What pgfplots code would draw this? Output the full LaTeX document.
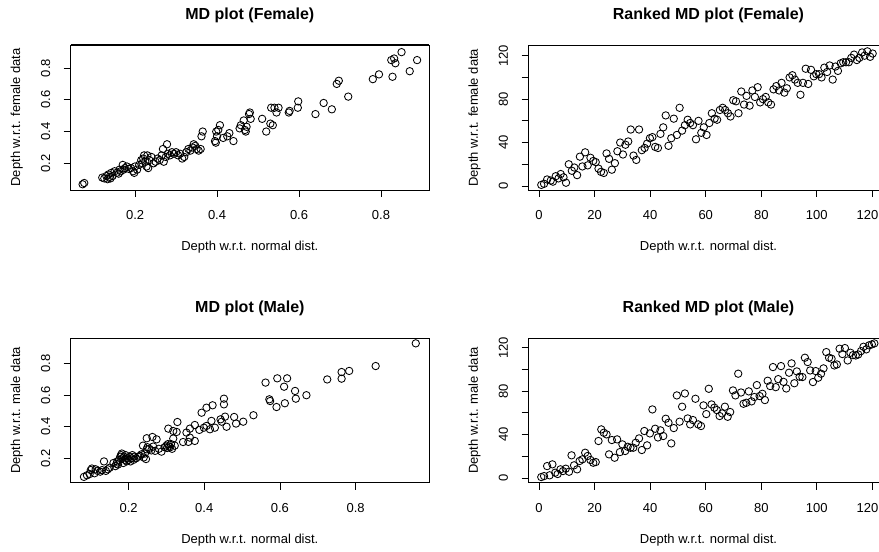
\documentclass[border=0pt]{standalone}
\usepackage{fontspec}
\setmainfont{Liberation Sans}
\usepackage{pgfplots}
\pgfplotsset{compat=1.18}
\pgfplotsset{
  rplot/.style={
    scale only axis,
    anchor=south west,
    axis line style={line width=0.8bp},
    tick align=outside,
    xtick pos=left, ytick pos=left,
    major tick length=7bp,
    tick style={line width=0.8bp, black},
    minor tick num=0,
    font=\fontsize{13bp}{15bp}\selectfont,
    tick label style={font=\fontsize{13bp}{15bp}\selectfont},
    /pgf/number format/assume math mode=true,
    xticklabel style={yshift=-10bp},
    yticklabel style={xshift=-10bp, rotate=90, anchor=south},
    every axis title/.style={at={(0.5,1)}, anchor=center, yshift=30bp,
      font=\fontsize{16bp}{19bp}\selectfont\bfseries},
    every axis x label/.style={at={(0.5,0)}, anchor=center, yshift=-57bp},
    every axis y label/.style={at={(0,0.5)}, xshift=-54bp, rotate=90, anchor=center},
  },
  thicktop/.style={after end axis/.code={
    \draw[line width=1.8bp] (rel axis cs:0,1) -- (rel axis cs:1,1);}},
  pts/.style={only marks, mark=o, mark size=3.7bp, black,
    mark options={fill=none, draw=black, line width=0.85bp}},
  mdax/.style={xtick={0.2,0.4,0.6,0.8}, xticklabels={0.2,0.4,0.6,0.8},
    ytick={0.2,0.4,0.6,0.8}, yticklabels={0.2,0.4,0.6,0.8}},
  rkax/.style={xtick={0,20,...,120},
    xticklabels={0,20,40,60,80,100,{\hspace*{-10bp}120}},
    ytick={0,20,...,120}, yticklabels={0,{},40,{},80,{},120}},
}
\begin{document}
\begin{tikzpicture}
\useasboundingbox (0,0) rectangle (879bp,552bp);
% ---------------- MD plot (Female)
\begin{axis}[rplot, mdax, thicktop, at={(70.7bp,362bp)}, width=358.3bp, height=145bp,
  xmin=0.043, xmax=0.917, ymin=0.032, ymax=0.945,
  title={MD plot (Female)}, xlabel={Depth w.r.t. normal dist.},
  ylabel={Depth w.r.t. female data}]
\addplot[pts] coordinates {
(0.072,0.068)(0.076,0.076)
(0.12,0.11)(0.125,0.105)(0.13,0.12)(0.133,0.10)(0.135,0.13)(0.138,0.115)(0.14,0.105)
(0.142,0.14)(0.145,0.12)(0.15,0.15)(0.155,0.14)(0.16,0.135)(0.162,0.16)(0.165,0.15)
(0.17,0.19)(0.172,0.16)(0.175,0.17)(0.18,0.18)(0.185,0.165)(0.19,0.17)(0.195,0.15)
(0.198,0.14)(0.2,0.18)(0.205,0.16)(0.21,0.19)(0.215,0.22)(0.218,0.2)(0.22,0.23)
(0.222,0.25)(0.225,0.21)(0.228,0.18)(0.23,0.25)(0.232,0.17)(0.235,0.22)(0.24,0.24)
(0.245,0.2)(0.25,0.21)(0.255,0.23)(0.26,0.22)(0.265,0.25)(0.268,0.29)(0.27,0.21)
(0.275,0.24)(0.278,0.32)(0.28,0.26)(0.285,0.25)(0.29,0.27)(0.295,0.26)(0.3,0.27)
(0.305,0.25)(0.31,0.26)(0.315,0.23)(0.32,0.24)(0.325,0.27)(0.33,0.29)(0.335,0.28)
(0.34,0.30)(0.343,0.32)(0.347,0.31)(0.35,0.29)(0.355,0.28)(0.36,0.29)(0.362,0.37)(0.365,0.40)
(0.395,0.34)(0.397,0.33)(0.398,0.40)(0.40,0.37)(0.403,0.41)(0.407,0.44)(0.415,0.36)
(0.425,0.37)(0.43,0.39)(0.44,0.34)(0.455,0.42)(0.458,0.44)(0.465,0.47)(0.468,0.41)
(0.47,0.40)(0.472,0.43)(0.478,0.51)(0.48,0.52)(0.482,0.48)(0.51,0.48)(0.52,0.40)
(0.53,0.45)(0.532,0.55)(0.536,0.44)(0.54,0.55)(0.545,0.52)(0.55,0.55)(0.575,0.52)
(0.577,0.53)(0.597,0.55)(0.598,0.59)(0.64,0.51)(0.66,0.58)(0.68,0.54)(0.692,0.70)
(0.697,0.72)(0.72,0.62)
(0.78,0.73)(0.795,0.76)(0.825,0.85)(0.828,0.745)(0.832,0.86)(0.835,0.83)(0.85,0.90)
(0.87,0.78)(0.888,0.85)
};
\end{axis}
% ---------------- Ranked MD plot (Female)
\begin{axis}[rplot, rkax, thicktop, at={(528.5bp,362bp)}, width=360bp, height=144.5bp,
  xmin=-3.8, xmax=125.8, ymin=-3.7, ymax=129.4,
  title={Ranked MD plot (Female)}, xlabel={Depth w.r.t. normal dist.},
  ylabel={Depth w.r.t. female data}]
\addplot[pts] coordinates {
(0.8,1)(1.8,2)(2.9,6)(4.2,5)(5.0,4)(6.0,9)(7.0,7)(7.8,11)(8.8,8)(9.7,3)
(10.7,20)(11.8,14)(12.7,17)(13.7,10)(14.7,27)(15.6,18)(16.6,31)(17.5,19)(18.5,26)(19.5,23)
(20.4,22)(21.4,16)(22.3,13)(23.3,12)(24.3,30)(25.2,25)(26.2,15)(27.3,21)(28.2,32)(29.2,40)
(30.2,29)(31.1,38)(32.1,41)(33.0,52)(34.0,28)(35.0,24)(36.0,52)(37.0,33)(38.0,35)(38.9,39)
(39.9,44)(40.8,45)(41.8,36)(42.8,35)(43.7,48)(44.7,54)(45.6,65)(46.6,37)(47.6,44)(48.5,62)
(49.6,47)(50.6,72)(51.5,51)(52.5,56)(53.5,61)(54.4,58)(55.4,56)(56.5,43)(57.4,60)(58.4,49)
(59.3,54)(60.3,47)(61.3,58)(62.2,67)(63.2,62)(64.1,61)(65.1,70)(66.1,72)(67.0,70)(68.0,67)
(68.9,64)(69.9,79)(70.9,78)(71.8,67)(72.8,87)(73.8,75)(74.7,83)(75.8,74)(76.8,88)(77.7,82)
(78.7,91)(79.6,77)(80.6,80)(81.6,82)(82.5,77)(83.5,75)(84.4,89)(85.4,92)(86.4,88)(87.3,95)
(88.3,86)(89.2,90)(90.2,100)(91.2,102)(92.1,98)(93.1,95)(94.1,84)(95.0,95)(96.0,108)(96.9,94)
(97.9,107)(98.9,101)(99.8,103)(100.8,103)(101.7,100)(102.7,109)(103.7,105)(104.6,111)(105.7,98)(106.7,110)
(107.6,106)(108.6,113)(109.5,114)(110.5,114)(111.5,114)(112.4,118)(113.4,121)(114.4,116)(115.3,118)(116.3,123)
(117.2,120)(118.2,124)(119.2,119)(120.1,122)
};
\end{axis}
% ---------------- MD plot (Male)
\begin{axis}[rplot, mdax, at={(70.7bp,69.3bp)}, width=358.3bp, height=144.4bp,
  xmin=0.047, xmax=0.994, ymin=0.045, ymax=0.961,
  title={MD plot (Male)}, xlabel={Depth w.r.t. normal dist.},
  ylabel={Depth w.r.t. male data}]
\addplot[pts] coordinates {
(0.082,0.082)(0.09,0.092)(0.097,0.10)(0.10,0.125)(0.103,0.135)(0.11,0.105)(0.113,0.13)
(0.118,0.12)(0.125,0.115)(0.13,0.125)(0.135,0.18)(0.14,0.12)(0.145,0.13)(0.15,0.14)
(0.16,0.17)(0.165,0.15)(0.168,0.165)(0.17,0.18)(0.172,0.16)(0.175,0.19)(0.178,0.21)
(0.18,0.22)(0.182,0.23)(0.184,0.20)(0.186,0.17)(0.188,0.21)(0.19,0.19)(0.192,0.22)
(0.195,0.18)(0.198,0.20)(0.20,0.19)(0.203,0.21)(0.205,0.18)(0.208,0.20)(0.21,0.22)
(0.213,0.19)(0.215,0.21)(0.22,0.20)(0.225,0.21)(0.23,0.215)(0.234,0.225)(0.238,0.28)
(0.24,0.205)(0.243,0.23)(0.246,0.195)(0.248,0.257)(0.248,0.327)(0.25,0.27)(0.255,0.26)
(0.26,0.25)(0.263,0.335)(0.265,0.274)(0.27,0.247)(0.274,0.32)(0.28,0.26)(0.287,0.242)
(0.295,0.27)(0.30,0.28)(0.302,0.265)(0.304,0.29)(0.305,0.388)(0.307,0.275)(0.31,0.27)
(0.312,0.29)(0.315,0.26)(0.318,0.325)(0.318,0.373)(0.322,0.28)(0.327,0.367)(0.329,0.43)
(0.344,0.303)(0.353,0.363)(0.358,0.304)(0.362,0.331)(0.362,0.388)(0.375,0.31)(0.375,0.411)
(0.387,0.38)(0.393,0.489)(0.399,0.394)(0.406,0.405)(0.406,0.521)(0.415,0.384)(0.419,0.437)
(0.422,0.536)(0.428,0.394)(0.443,0.447)(0.446,0.432)(0.452,0.542)(0.452,0.578)(0.455,0.464)
(0.459,0.40)(0.479,0.462)(0.484,0.42)(0.503,0.432)(0.53,0.473)(0.562,0.68)(0.572,0.574)
(0.574,0.563)(0.591,0.525)(0.593,0.707)(0.611,0.654)(0.613,0.549)(0.619,0.707)(0.64,0.627)
(0.642,0.578)(0.67,0.60)(0.725,0.70)(0.763,0.705)(0.763,0.747)(0.783,0.754)(0.853,0.785)
(0.959,0.929)
};
\end{axis}
% ---------------- Ranked MD plot (Male)
\begin{axis}[rplot, rkax, at={(528.5bp,69.3bp)}, width=360bp, height=144.4bp,
  xmin=-3.8, xmax=125.8, ymin=-4.3, ymax=128.7,
  title={Ranked MD plot (Male)}, xlabel={Depth w.r.t. normal dist.},
  ylabel={Depth w.r.t. male data}]
\addplot[pts] coordinates {
(0.8,0.9)(1.8,1.8)(2.9,11.0)(3.8,2.5)(4.8,12.6)(5.8,4.9)(6.7,3.7)(7.7,8.0)(8.6,6.4)(9.6,8.6)
(10.8,5.8)(11.7,20.9)(12.6,11.7)(13.7,8.0)(14.6,15.7)(15.6,17.2)(16.6,23.3)(17.5,20.3)(18.5,16.6)(19.5,14.1)
(20.4,14.7)(21.4,34.1)(22.4,44.8)(23.3,41.7)(24.3,40.2)(25.2,21.8)(26.2,35.0)(27.2,18.7)(28.1,35.6)(29.1,23.9)
(30.0,31.0)(31.0,24.9)(31.9,28.8)(32.9,27.9)(33.9,27.9)(34.8,32.5)(36.0,36.5)(37.0,25.8)(37.9,43.3)(38.9,30.1)
(39.9,41.1)(40.8,63.2)(41.8,45.4)(42.8,37.4)(43.7,43.9)(44.7,38.7)(45.6,54.6)(46.6,50.9)(47.6,31.9)(48.5,46.0)
(49.6,76.1)(50.6,51.9)(51.5,65.7)(52.5,77.9)(53.5,54.9)(54.4,49.4)(55.4,53.4)(56.3,73.0)(57.3,49.4)(58.3,47.9)
(59.2,66.9)(60.2,58.9)(61.1,82.2)(62.1,67.8)(63.1,64.8)(64.0,62.6)(65.0,57.1)(65.9,59.5)(66.9,65.7)(67.9,56.4)
(68.8,60.8)(69.8,80.7)(70.7,76.1)(71.7,96.1)(72.7,78.8)(73.6,68.4)(74.6,69.3)(75.5,79.8)(76.5,70.6)(77.5,74.6)
(78.4,85.6)(79.4,75.5)(80.4,77.6)(81.3,71.8)(82.3,89.6)(83.2,84.7)(84.2,102.2)(85.2,83.7)(86.1,91.1)(87.1,103.1)
(88.0,88.6)(89.0,82.5)(90.0,97.0)(90.9,105.6)(91.9,87.3)(92.8,98.2)(93.8,93.3)(94.8,93.0)(95.7,110.8)(96.7,106.8)
(97.6,99.1)(98.6,88.4)(99.6,98.5)(100.5,92.4)(101.5,96.1)(102.4,101.0)(103.4,116.0)(104.4,110.8)(105.3,109.9)(106.3,103.7)
(107.2,104.6)(108.2,119.1)(109.2,114.2)(110.1,119.7)(111.1,108.3)(112.1,115.4)(113.0,113.2)(114.0,112.9)(114.9,113.8)(115.9,116.9)
(116.8,120.9)(117.8,118.5)(118.8,122.2)(119.8,123.1)(120.7,124.0)
};
\end{axis}
\end{tikzpicture}
\end{document}
